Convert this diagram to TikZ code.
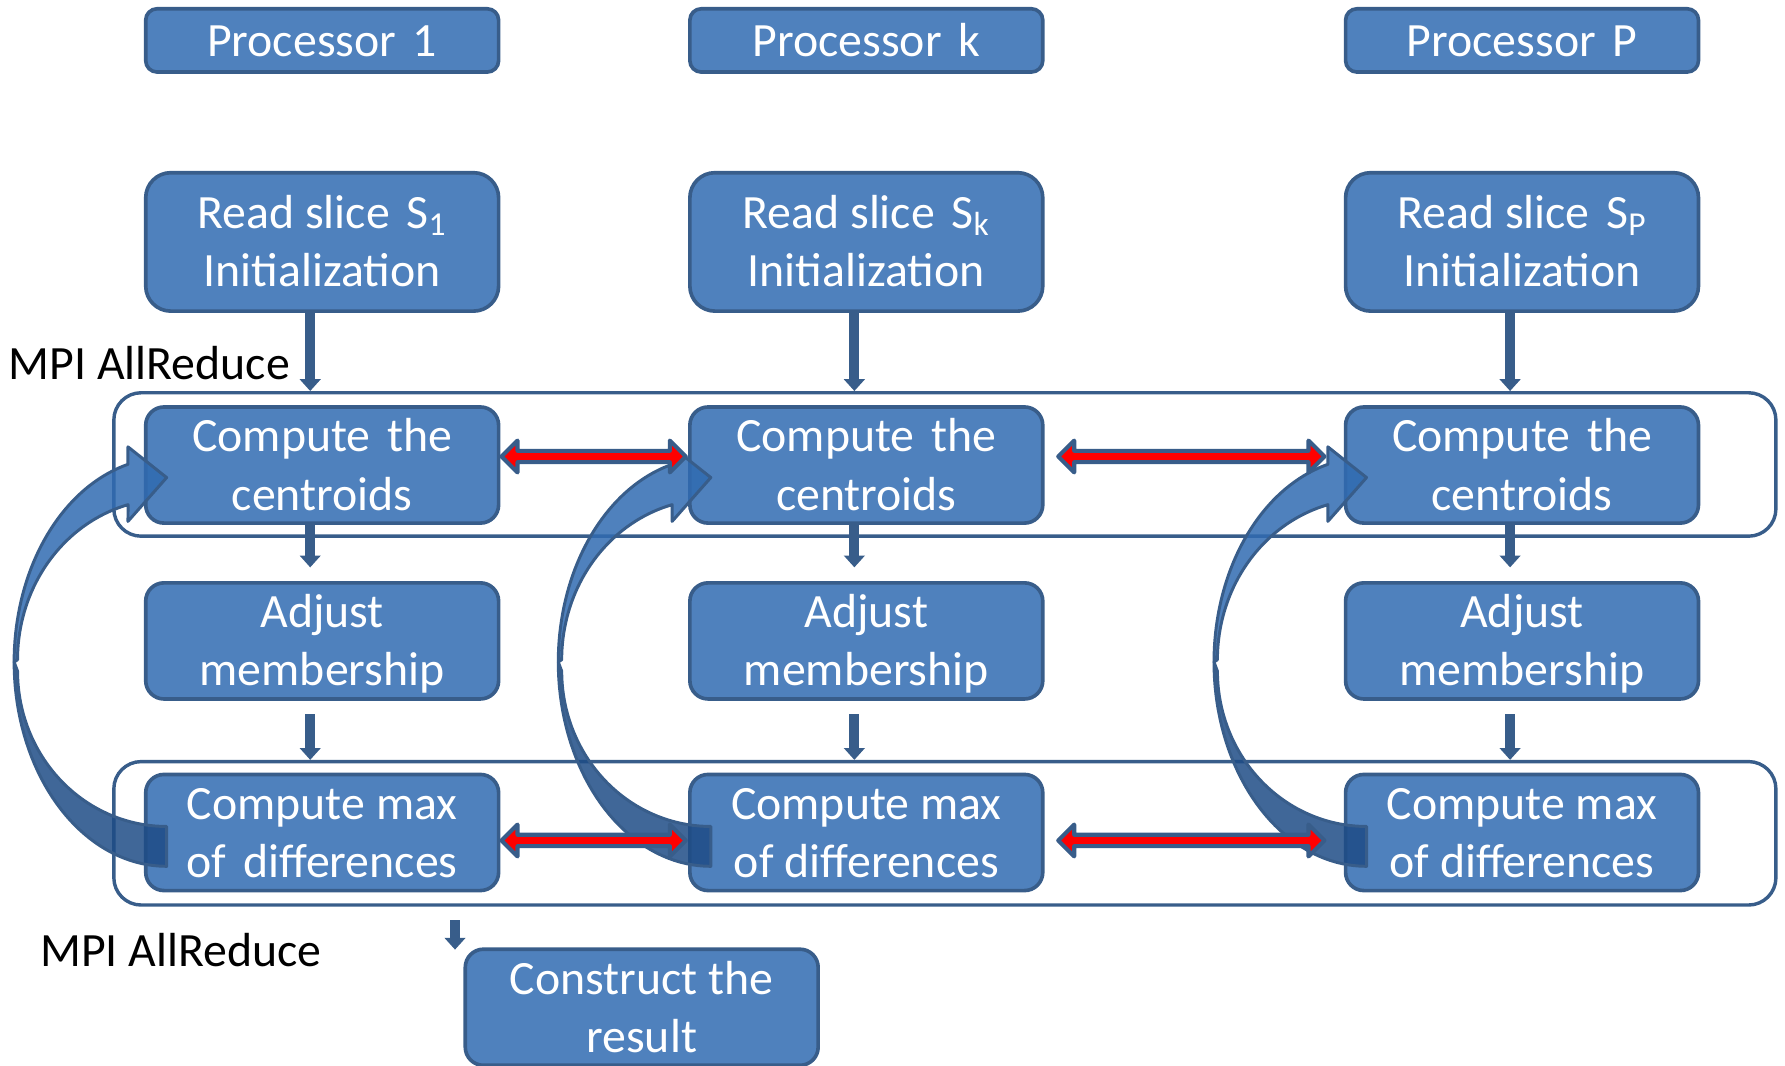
\documentclass[tikz,border=0pt]{standalone}
\usepackage{fontspec}
\setmainfont{Carlito}
\usetikzlibrary{arrows.meta,calc}
\definecolor{bfill}{HTML}{4F81BD}
\definecolor{bdr}{HTML}{385D8A}
\definecolor{clight}{HTML}{306BB1}
\definecolor{cdark}{HTML}{1E4C86}
\newcommand\bxs{\rule[-0.225\baselineskip]{0pt}{\baselineskip}}
\newcommand\twol[2]{\bxs #1\\\bxs #2}
\newcommand\bigcurve[1]{%
\begin{scope}[shift={(#1.west)}]
 \filldraw[curvlight] plot[domain=180:255.3,samples=40] ({20+134*cos(\x)},{173+179.5*sin(\x)})
   -- (-14,-16) -- (20,11) -- (-14,49.5)
   -- plot[domain=255:180,samples=40] ({20+131*cos(\x)},{171+141*sin(\x)}) -- cycle;
 \filldraw[curvdark] plot[domain=180:90,samples=40] ({20+134*cos(\x)},{173+179.5*sin(\x)})
   -- (20,317.5)
   -- plot[domain=90:180,samples=40] ({20+131*cos(\x)},{181+136.5*sin(\x)}) -- cycle;
\end{scope}}
\newcommand\redarrow[2]{%
 \filldraw[redarr] let \p1=#1, \p2=#2 in
  (\x1,\y1) -- ++(7pt,7pt) -- ++(0,-4.5pt) -- (\x2-7pt,\y1+2.5pt) -- ++(0,4.5pt)
  -- (\x2,\y1) -- ++(-7pt,-7pt) -- ++(0,4.5pt) -- (\x1+7pt,\y1-2.5pt) -- ++(0,-4.5pt) -- cycle;}
\begin{document}
\begin{tikzpicture}[x=0.5pt,y=-0.5pt,
  box/.style={draw=bdr,fill=bfill,line width=1.6pt,rounded corners=8pt,minimum width=155pt,
    inner sep=0pt,text=white,align=center,font=\fontsize{21}{25.5}\selectfont},
  procbox/.style={box,minimum height=27.8pt,rounded corners=5pt},
  readbox/.style={box,minimum height=60.8pt,rounded corners=11pt},
  stepbox/.style={box,minimum height=47pt},
  outerbox/.style={draw=bdr,line width=1.5pt,rounded corners=12pt,inner sep=0pt,
    minimum width=730pt,minimum height=63pt},
  lbl/.style={inner sep=0pt,text=black,font=\fontsize{21}{25.5}\selectfont},
  varrow/.style={draw=bdr,line width=4.4pt,-{Triangle[width=9pt,length=5.2pt]}},
  curvlight/.style={fill=clight,fill opacity=0.85,draw=bdr,line width=1.3pt,line join=round},
  curvdark/.style={fill=cdark,fill opacity=0.85,draw=bdr,line width=1.3pt,line join=round},
  redarr/.style={fill=red,draw=bdr,line width=1.8pt,line join=round}]
\useasboundingbox (0,0) rectangle (1568,936);

% outer groups
\node[outerbox] (top) at (830,408) {};
\node[outerbox] (bot) at (830,732) {};

% processors
\node[procbox] (p1) at (283,35.5) {\bxs Processor\hspace{0.35em}1};
\node[procbox] (pk) at (761,35.5) {\bxs Processor\hspace{0.35em}k};
\node[procbox] (pP) at (1337,35.5) {\bxs Processor\hspace{0.35em}P};

% read slice
\node[readbox] (r1) at (283,212.5) {\twol{Read slice\hspace{0.35em}S\textsubscript{1}}{Initialization}};
\node[readbox] (rk) at (761,212.5) {\twol{Read slice\hspace{0.35em}S\textsubscript{k}}{Initialization}};
\node[readbox] (rP) at (1337,212.5) {\twol{Read slice\hspace{0.35em}S\textsubscript{P}}{Initialization}};

% compute centroids
\node[stepbox] (c1) at (283,408.5) {\twol{Compute\hspace{0.35em}the}{centroids}};
\node[stepbox] (ck) at (761,408.5) {\twol{Compute\hspace{0.35em}the}{centroids}};
\node[stepbox] (cP) at (1337,408.5) {\twol{Compute\hspace{0.35em}the}{centroids}};

% adjust
\node[stepbox] (a1) at (283,563) {\twol{Adjust}{membership}};
\node[stepbox] (ak) at (761,563) {\twol{Adjust}{membership}};
\node[stepbox] (aP) at (1337,563) {\twol{Adjust}{membership}};

% compute max
\node[stepbox] (m1) at (283,731.3) {\twol{Compute max}{of\hspace{0.35em}differences}};
\node[stepbox] (mk) at (761,731.3) {\twol{Compute max}{of differences}};
\node[stepbox] (mP) at (1337,731.3) {\twol{Compute max}{of differences}};

% construct
\node[stepbox] (cons) at (563.7,884.8) {\twol{Construct the}{result}};

% labels
\node[lbl,anchor=base west] (mpiA) at (7.3,333) {MPI AllReduce};
\node[lbl,anchor=base west] (mpiB) at (35,849) {MPI AllReduce};

% vertical connectors
\foreach \c in {1,k,P}{
  \coordinate (xr\c) at ($(r\c.south)+(-10.5,0)$);
  \coordinate (xa\c) at ($(a\c.south)+(-10.5,0)$);
  \draw[varrow] (xr\c) -- (xr\c |- top.north);
  \draw[varrow] ($(c\c.south)+(-10.5,0)$) -- ($(a\c.north)+(-10.5,-12)$);
  \draw[varrow] ($(xa\c)+(0,12)$) -- (xa\c |- bot.north);
}
\coordinate (cx) at ($(cons.north)+(-164,0)$);
\coordinate (cxs) at (cx |- bot.south);
\draw[varrow] ($(cxs)+(0,12)$) -- ($(cx)+(0,2)$);

% curved loop arrows
\bigcurve{c1}
\bigcurve{ck}
\bigcurve{cP}

% red exchange arrows
\redarrow{($(c1.east)+(1,-7.5)$)}{($(ck.west)+(-2,-7.5)$)}
\redarrow{($(ck.east)+(12,-7.5)$)}{($(cP.west)+(-17,-7.5)$)}
\redarrow{($(m1.east)+(1,7)$)}{($(mk.west)+(-2,7)$)}
\redarrow{($(mk.east)+(12,7)$)}{($(mP.west)+(-17,7)$)}
\end{tikzpicture}
\end{document}
